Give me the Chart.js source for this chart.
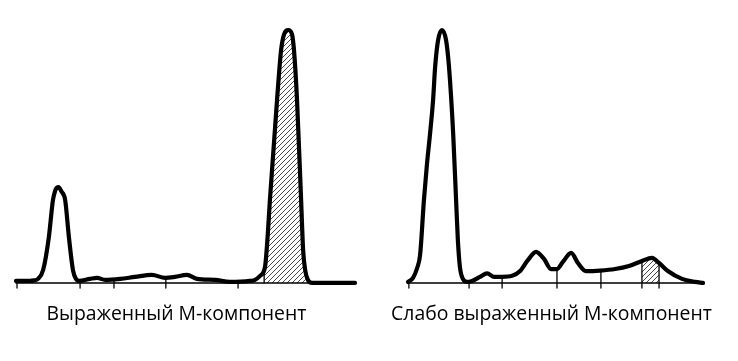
<!DOCTYPE html>
<html>
<head>
<meta charset="utf-8">
<script src="https://cdn.jsdelivr.net/npm/chart.js@4/dist/chart.umd.min.js"></script>
<style>
    body{ margin:0; background:#fff; }
    #wrap{ position:relative; width:738px; height:361px; overflow:hidden; }
    .pane{ position:absolute; top:0; width:369px; height:361px; }
    .caption{
        position:absolute; top:301px; width:369px; text-align:center;
        font-family:"Open Sans", sans-serif; font-size:19.4px; color:#000; line-height:24px;
    }
</style>
</head>
<body>
<div id="wrap">
    <div class="pane" style="left:0"><canvas id="leftChart" width="369" height="361"></canvas></div>
    <div class="pane" style="left:369px"><canvas id="rightChart" width="369" height="361"></canvas></div>
    <div class="caption" style="left:-8px">Выраженный М-компонент</div>
    <div class="caption" style="left:367px">Слабо выраженный М-компонент</div>
</div>
<script>
/* ==========================
   DATA (x: mobility 0-100, y: relative density, peak = 100)
========================== */
// Left: pronounced M-component
const leftX = [0, 4.1, 5.3, 6.5, 8.0, 9.7, 10.9, 11.5, 12.0, 12.4, 12.8, 13.4, 14.5, 15.6, 16.8, 17.7, 18.6,
    21.8, 23.9, 26.3, 30.7, 35.1, 40.1, 44.0, 46.9, 50.4, 53.4, 58.7, 63.1, 69.0, 70.5, 72.0, 73.45, 74.3, 74.9,
    77.0, 78.2, 79.1, 80.3, 81.4, 82.0, 82.9, 84.1, 84.7, 85.3, 86.1, 87.3, 100];
const leftY = [0.8, 0.8, 1.0, 1.6, 5.1, 18.2, 32.8, 36.2, 37.6, 37.9, 37.6, 36.2, 32.8, 18.2, 5.1, 1.6, 0.8,
    1.6, 2.0, 1.2, 1.6, 2.4, 3.2, 2.0, 2.4, 3.2, 1.6, 1.2, 0.4, 0.8, 1.2, 2.8, 6.3, 19.8, 32.8,
    72.3, 92.1, 98.4, 100, 98.4, 92.1, 72.3, 32.8, 13.0, 5.1, 1.2, 0, 0];
const leftDivX   = [0.3, 18.9, 28.9, 44.2, 65.5, 73.2];
const leftDivTop = [0.8, 0.8, 1.6, 2.0, 0.4, 5.0];
const leftDivLow = [-2, -2, -2, -2, -2, 0];
const leftHatch  = [73.2, 87.3];

// Right: weak M-component
const rightX = [0, 1.7, 3.1, 4.1, 5.4, 6.4, 7.5, 8.5, 9.2, 10.2, 11.5, 12.9, 13.9, 15.3, 16.3, 16.9, 17.6, 18.6,
    20.0, 21.7, 24.4, 26.8, 29.2, 31.9, 35.3, 38.0, 40.7, 43.4, 46.1, 48.5, 50.5, 52.5, 55.3, 57.6, 60.3,
    65.1, 70.2, 74.9, 79.3, 82.7, 85.1, 88.1, 92.9, 97.3, 100];
const rightY = [0.4, 2.0, 5.9, 11.1, 32.8, 46.6, 59.3, 72.3, 85.4, 96.0, 100, 96.0, 85.4, 59.3, 32.8, 17.0, 6.3, 1.6,
    0.4, 0.8, 2.4, 3.8, 2.4, 2.4, 2.8, 4.7, 9.1, 12.3, 9.5, 5.5, 5.5, 8.3, 11.9, 7.9, 4.7,
    4.9, 5.5, 6.7, 8.7, 9.9, 7.9, 4.7, 1.6, 0.4, 0];
const rightDivX   = [0.3, 20.7, 31.9, 50.5, 65.4, 79.3, 85.1];
const rightDivTop = [0.4, 0.6, 2.4, 5.5, 4.9, 8.7, 7.9];
const rightDivLow = [-2, -2, -2, -2, -2, -2, -2];
const rightHatch  = [79.3, 85.1];

/* ==========================
   HELPERS
========================== */
function makeHatch(){
    const c = document.createElement("canvas");
    c.width = 5; c.height = 5;
    const g = c.getContext("2d");
    g.strokeStyle = "#333";
    g.lineWidth = 0.9;
    g.beginPath();
    g.moveTo(0,5); g.lineTo(5,0);
    g.moveTo(-1,1); g.lineTo(1,-1);
    g.moveTo(4,6); g.lineTo(6,4);
    g.stroke();
    return g.createPattern(c, "repeat");
}

function buildDatasets(xs, ys, divX, divTop, divLow, hatch){
    const curve = xs.map((x,i)=>({x, y:ys[i]}));
    const ds = [];

    // main curve (drawn on top)
    ds.push({
        data: curve, borderColor:"#000", borderWidth:4.2,
        cubicInterpolationMode:"monotone", fill:false, clip:false
    });

    // baseline
    ds.push({ data:[{x:0,y:0},{x:100,y:0}], borderColor:"#000", borderWidth:1.6, fill:false, clip:false });

    // fraction dividers / ticks
    divX.forEach((x,i)=>{
        ds.push({ data:[{x,y:divLow[i]},{x,y:divTop[i]}], borderColor:"#000", borderWidth:1.3, fill:false, clip:false });
    });

    // hatched M-component
    const hatchPts = curve.filter(p=>p.x>=hatch[0] && p.x<=hatch[1]);
    if(hatchPts[0].x > hatch[0]){
        const k = divX.indexOf(hatch[0]);
        hatchPts.unshift({x:hatch[0], y:divTop[k]});
    }
    ds.push({
        data: hatchPts, borderWidth:0, borderColor:"rgba(0,0,0,0)",
        backgroundColor: makeHatch(), fill:"origin", cubicInterpolationMode:"monotone"
    });
    return ds;
}

function drawChart(id, datasets, padLeft, padRight){
    new Chart(document.getElementById(id).getContext("2d"), {
        type:"line",
        data:{ datasets },
        options:{
            responsive:false, animation:false, devicePixelRatio:1,
            layout:{ padding:{ left:padLeft, right:padRight, top:30, bottom:73 } },
            elements:{ point:{ radius:0 }, line:{ borderCapStyle:"round", borderJoinStyle:"round" } },
            scales:{
                x:{ type:"linear", min:0, max:100, display:false },
                y:{ type:"linear", min:-2, max:100, display:false }
            },
            plugins:{ legend:{ display:false }, tooltip:{ enabled:false } }
        }
    });
}

/* ==========================
   CHARTS
========================== */
drawChart("leftChart", buildDatasets(leftX, leftY, leftDivX, leftDivTop, leftDivLow, leftHatch), 16, 14);
drawChart("rightChart", buildDatasets(rightX, rightY, rightDivX, rightDivTop, rightDivLow, rightHatch), 39, 35);
</script>
</body>
</html>
